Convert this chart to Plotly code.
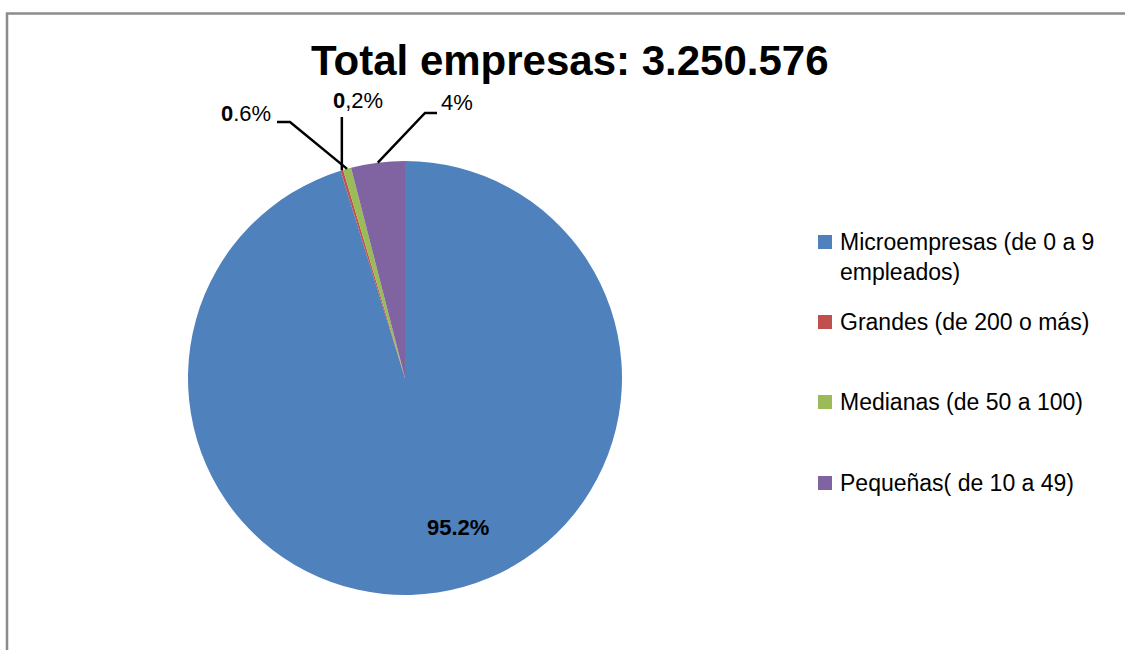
import math
import plotly.graph_objects as go

# Company size breakdown (share of total, %)
categories = [
    "Microempresas (de 0 a 9<br>empleados)",
    "Grandes (de 200 o más)",
    "Medianas (de 50 a 100)",
    "Pequeñas( de 10 a 49)",
]
shares = [95.2, 0.2, 0.6, 4.0]
slice_labels = ["95.2%", "<b>0</b>,2%", "<b>0</b>.6%", "4%"]
colors = ["#4F81BD", "#C0504D", "#9BBB59", "#8064A2"]
title_text = "Total empresas: 3.250.576"

W, H = 1125, 650
FONT = "Liberation Sans, Arial, sans-serif"

# pie placement in pixels
CX, CY, R = 405, 378, 217


def px(x):
    return x / W


def py(y):
    return 1 - y / H


def edge_point(i):
    total = sum(shares)
    start = sum(shares[:i]) / total * 360
    mid = math.radians(start + shares[i] / total * 180)
    return CX + R * math.sin(mid), CY - R * math.cos(mid)


fig = go.Figure(
    go.Pie(
        labels=[c.replace("<br>", " ") for c in categories],
        values=shares,
        sort=False,
        direction="clockwise",
        rotation=0,
        marker=dict(colors=colors, line=dict(width=0)),
        textinfo="none",
        hoverinfo="label+percent",
        showlegend=False,
        domain=dict(x=[px(CX - R), px(CX + R)], y=[py(CY + R), py(CY - R)]),
    )
)

shapes = []
annotations = []

# outer chart frame
shapes.append(dict(type="rect", xref="paper", yref="paper",
                   x0=px(7), x1=1.05, y0=-0.05, y1=py(13.5),
                   line=dict(color="#8c8c8c", width=2.5), layer="below"))

# title
annotations.append(dict(text="<b>" + title_text + "</b>", x=px(570), y=py(61),
                        xref="paper", yref="paper", showarrow=False,
                        xanchor="center", yanchor="middle",
                        font=dict(family=FONT, size=42, color="black")))

# big slice label inside the pie
annotations.append(dict(text="<b>" + slice_labels[0] + "</b>", x=px(458), y=py(527),
                        xref="paper", yref="paper", showarrow=False,
                        xanchor="center", yanchor="middle",
                        font=dict(family=FONT, size=22, color="black")))

# small slice labels with leader lines: (label centre, elbow points)
ex1, ey1 = edge_point(1)
ex2, ey2 = edge_point(2)
ex3, ey3 = edge_point(3)
leaders = [
    (1, (358, 100), [(ex1, 117), (ex1, ey1)]),
    (2, (246, 114), [(277, 122), (290, 122), (ex2, ey2)]),
    (3, (457, 103), [(437, 113), (425, 113), (ex3, ey3)]),
]
for idx, (lx, ly), pts in leaders:
    annotations.append(dict(text=slice_labels[idx], x=px(lx), y=py(ly),
                            xref="paper", yref="paper", showarrow=False,
                            xanchor="center", yanchor="middle",
                            font=dict(family=FONT, size=22, color="black")))
    path = "M " + " L ".join(f"{px(x):.5f},{py(y):.5f}" for x, y in pts)
    shapes.append(dict(type="path", xref="paper", yref="paper", path=path,
                       line=dict(color="black", width=2.5)))

# legend
rows = [242, 322, 402, 483]
for i, (cat, col, ry) in enumerate(zip(categories, colors, rows)):
    shapes.append(dict(type="rect", xref="paper", yref="paper",
                       x0=px(818), x1=px(832), y0=py(ry + 7), y1=py(ry - 7),
                       fillcolor=col, line=dict(width=0)))
    n_lines = cat.count("<br>") + 1
    annotations.append(dict(text=cat, x=px(838), y=py(ry + (n_lines - 1) * 14.5),
                            xref="paper", yref="paper", showarrow=False,
                            xanchor="left", yanchor="middle", align="left",
                            font=dict(family=FONT, size=23, color="black")))

fig.update_layout(
    width=W, height=H, autosize=False,
    margin=dict(l=0, r=0, t=0, b=0),
    paper_bgcolor="white", plot_bgcolor="white",
    shapes=shapes, annotations=annotations,
)

fig.write_html("out.html")
